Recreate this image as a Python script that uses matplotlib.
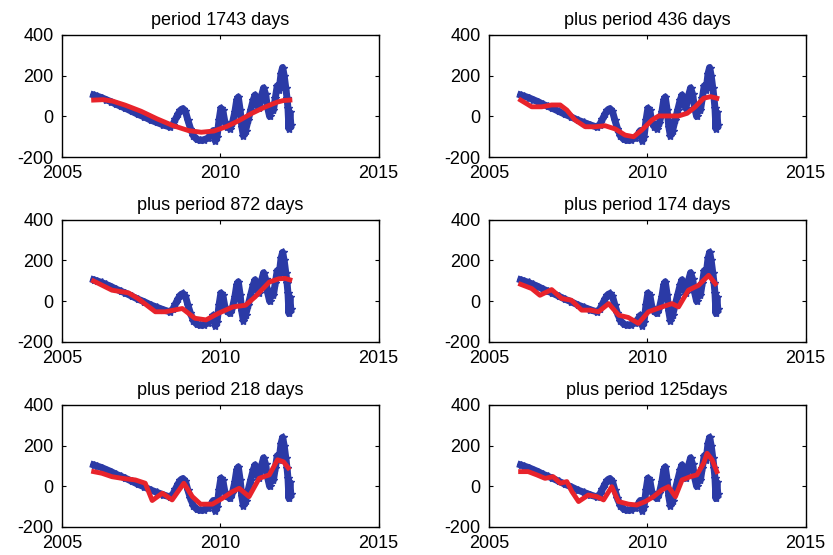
#!/usr/bin/env python3

import matplotlib
matplotlib.use('Agg')
import matplotlib.pyplot as plt

# observed series (same in every panel)
obs_years = [2006.00, 2006.10, 2006.25, 2006.40, 2006.55, 2006.70, 2006.85,
             2007.00, 2007.20, 2007.40, 2007.60, 2007.80, 2008.00, 2008.20,
             2008.40, 2008.50, 2008.58, 2008.66, 2008.74, 2008.82, 2008.90,
             2008.98, 2009.06, 2009.15, 2009.25, 2009.35, 2009.48, 2009.60,
             2009.70, 2009.78, 2009.84, 2009.90, 2009.96, 2010.02, 2010.08,
             2010.15, 2010.22, 2010.30, 2010.38, 2010.46, 2010.52, 2010.57,
             2010.63, 2010.68, 2010.73, 2010.80, 2010.88, 2010.96, 2011.04,
             2011.10, 2011.16, 2011.22, 2011.30, 2011.37, 2011.43, 2011.50,
             2011.56, 2011.62, 2011.68, 2011.74, 2011.80, 2011.86, 2011.92,
             2011.97, 2012.02, 2012.07, 2012.11, 2012.14, 2012.17, 2012.20,
             2012.23]
obs_values = [105, 100, 92, 82, 72, 60, 50, 40, 25, 10, -3, -18, -30, -42,
              -52, -40, -15, 10, 30, 38, 25, -20, -60, -95, -112, -118, -115,
              -108, -90, -70, -120, -100, -20, 40, 30, -30, -50, -60, -35, 20,
              80, 95, 30, -50, -95, -70, -20, 30, 80, 105, 60, 40, 100, 140,
              110, 40, 0, 50, 30, 90, 150, 130, 210, 240, 200, 140, 90, 40,
              -60, 20, -40]

# fitted curves, one per panel
titles = ['period 1743 days', 'plus period 436 days',
          'plus period 872 days', 'plus period 174 days',
          'plus period 218 days', 'plus period 125days']

fit1_x = [2006.0, 2006.3, 2006.6, 2007.0, 2007.5, 2008.0, 2008.5, 2009.0,
          2009.4, 2009.8, 2010.2, 2010.6, 2011.0, 2011.4, 2011.8, 2012.0,
          2012.2]
fit1_y = [80, 82, 75, 55, 25, -12, -45, -70, -78, -72, -50, -20, 15, 45, 70,
          78, 80]

fit2_x = [2006.0, 2006.35, 2006.67, 2006.98, 2007.25, 2007.46, 2007.72,
          2008.04, 2008.35, 2008.67, 2008.99, 2009.3, 2009.57, 2009.83,
          2010.15, 2010.36, 2010.78, 2010.99, 2011.26, 2011.52, 2011.78,
          2012.0, 2012.2]
fit2_y = [80, 47, 47, 56, 56, 31, -18, -51, -51, -46, -62, -92, -100, -67,
          -18, 2, 2, 2, 15, 47, 89, 97, 89]

fit3_x = [2006.0, 2006.58, 2007.1, 2007.4, 2007.95, 2008.27, 2008.8, 2009.2,
          2009.55, 2009.95, 2010.4, 2010.8, 2011.1, 2011.55, 2011.85, 2012.05,
          2012.2]
fit3_y = [99, 54, 41, 13, -52, -52, -36, -84, -92, -59, -28, -20, 21, 94,
          110, 112, 105]

fit4_x = [2006.0, 2006.35, 2006.61, 2006.98, 2007.3, 2007.6, 2007.93, 2008.2,
          2008.46, 2008.78, 2009.1, 2009.4, 2009.72, 2010.04, 2010.47,
          2010.78, 2010.99, 2011.3, 2011.62, 2011.94, 2012.15]
fit4_y = [83, 62, 29, 57, 13, 5, -44, -44, -52, -12, -69, -80, -109, -52,
          -28, -12, -28, 54, 78, 127, 86]

fit5_x = [2006.0, 2006.26, 2006.58, 2006.9, 2007.32, 2007.63, 2007.85,
          2008.17, 2008.48, 2008.85, 2009.12, 2009.38, 2009.75, 2010.07,
          2010.39, 2010.6, 2010.91, 2011.23, 2011.55, 2011.81, 2012.0,
          2012.15]
fit5_y = [72, 64, 47, 39, 31, 15, -70, -34, -67, 15, -51, -88, -88, -59,
          -26, -10, -51, 39, 56, 130, 120, 90]

fit6_x = [2006.0, 2006.24, 2006.51, 2006.77, 2007.03, 2007.25, 2007.46,
          2007.62, 2007.83, 2008.14, 2008.41, 2008.62, 2008.88, 2009.09,
          2009.41, 2009.67, 2009.94, 2010.2, 2010.46, 2010.67, 2010.89,
          2011.1, 2011.36, 2011.57, 2011.78, 2011.89, 2012.05, 2012.2]
fit6_y = [72, 72, 56, 39, 47, 15, 23, -26, -75, -43, -51, -67, -2, -75, -88,
          -92, -75, -51, -18, -2, -51, 31, 47, 56, 113, 162, 130, 72]

fits = [(fit1_x, fit1_y), (fit2_x, fit2_y), (fit3_x, fit3_y),
        (fit4_x, fit4_y), (fit5_x, fit5_y), (fit6_x, fit6_y)]

x_ticks = [2005, 2010, 2015]
y_ticks = [-200, 0, 200, 400]

BLUE = '#2b3aa6'
RED = '#e8232b'

plt.rcParams['font.family'] = ['Liberation Sans', 'DejaVu Sans']
plt.rcParams['axes.unicode_minus'] = False


def main():
    fig = plt.figure(figsize=(8.33, 5.55), dpi=100)
    lefts = [0.0744, 0.587]
    bottoms = [0.717, 0.384, 0.0505]
    width = 0.38
    height = 0.22

    for i, (title, (fx, fy)) in enumerate(zip(titles, fits)):
        ax = fig.add_axes([lefts[i % 2], bottoms[i // 2], width, height])
        ax.plot(obs_years, obs_values, color=BLUE, lw=5, marker='*',
                ms=6, mew=1.0, solid_joinstyle='round')
        ax.plot(fx, fy, color=RED, lw=3.5, solid_joinstyle='round')
        ax.set_xlim(2005, 2015)
        ax.set_ylim(-200, 400)
        ax.set_xticks(x_ticks)
        ax.set_yticks(y_ticks)
        ax.tick_params(direction='in', length=3, width=0.8, top=True,
                       right=True, labelsize=13, pad=6, colors='black')
        for sp in ax.spines.values():
            sp.set_linewidth(1.0)
        ax.set_title(title, fontsize=13, pad=7)

    fig.savefig('out.png', dpi=100, facecolor='white')


if __name__ == '__main__':
    main()
